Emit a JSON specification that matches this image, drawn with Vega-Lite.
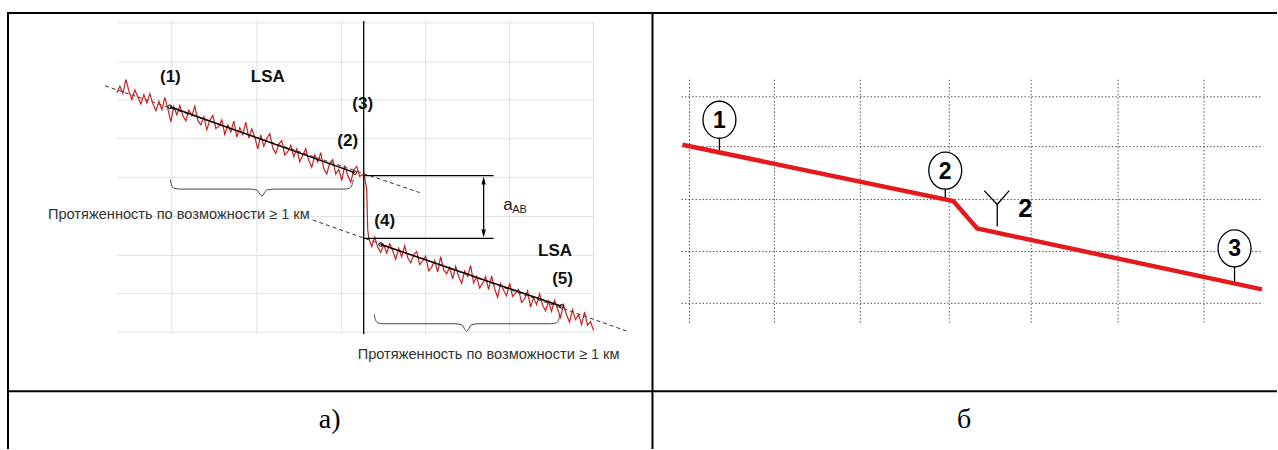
{
  "$schema": "https://vega.github.io/schema/vega-lite/v6.json",
  "width": 1278,
  "height": 450,
  "autosize": {"type": "fit", "contains": "padding"},
  "padding": 0,
  "background": "white",
  "config": {"view": {"stroke": null}},
  "datasets": {
    "segs": [
      {"k": "gridA", "x": 117, "y": 23, "x2": 594, "y2": 23},
      {"k": "gridA", "x": 117, "y": 62, "x2": 594, "y2": 62},
      {"k": "gridA", "x": 117, "y": 100, "x2": 594, "y2": 100},
      {"k": "gridA", "x": 117, "y": 139, "x2": 594, "y2": 139},
      {"k": "gridA", "x": 117, "y": 178, "x2": 594, "y2": 178},
      {"k": "gridA", "x": 117, "y": 217, "x2": 594, "y2": 217},
      {"k": "gridA", "x": 117, "y": 256, "x2": 594, "y2": 256},
      {"k": "gridA", "x": 117, "y": 294, "x2": 594, "y2": 294},
      {"k": "gridA", "x": 117, "y": 333, "x2": 594, "y2": 333},
      {"k": "gridA", "x": 172, "y": 21, "x2": 172, "y2": 335},
      {"k": "gridA", "x": 257, "y": 21, "x2": 257, "y2": 335},
      {"k": "gridA", "x": 342, "y": 21, "x2": 342, "y2": 335},
      {"k": "gridA", "x": 426, "y": 21, "x2": 426, "y2": 335},
      {"k": "gridA", "x": 510, "y": 21, "x2": 510, "y2": 335},
      {"k": "gridA", "x": 594, "y": 21, "x2": 594, "y2": 335},
      {"k": "gridB", "x": 682, "y": 97, "x2": 1263, "y2": 97},
      {"k": "gridB", "x": 682, "y": 147, "x2": 1263, "y2": 147},
      {"k": "gridB", "x": 682, "y": 200, "x2": 1263, "y2": 200},
      {"k": "gridB", "x": 682, "y": 252, "x2": 1263, "y2": 252},
      {"k": "gridB", "x": 682, "y": 304, "x2": 1263, "y2": 304},
      {"k": "gridB", "x": 690, "y": 80, "x2": 690, "y2": 325},
      {"k": "gridB", "x": 775, "y": 80, "x2": 775, "y2": 325},
      {"k": "gridB", "x": 861, "y": 80, "x2": 861, "y2": 325},
      {"k": "gridB", "x": 950, "y": 80, "x2": 950, "y2": 325},
      {"k": "gridB", "x": 1032, "y": 80, "x2": 1032, "y2": 325},
      {"k": "gridB", "x": 1119, "y": 80, "x2": 1119, "y2": 325},
      {"k": "gridB", "x": 1205, "y": 80, "x2": 1205, "y2": 325},
      {"k": "dash", "x": 105, "y": 86, "x2": 420, "y2": 193},
      {"k": "dash", "x": 313, "y": 220.5, "x2": 627, "y2": 331.7},
      {"k": "fit", "x": 170, "y": 107, "x2": 355, "y2": 173},
      {"k": "fit", "x": 381, "y": 245, "x2": 562, "y2": 307},
      {"k": "black", "x": 364, "y": 21, "x2": 364, "y2": 335},
      {"k": "black", "x": 364, "y": 176, "x2": 494, "y2": 176},
      {"k": "black", "x": 364, "y": 239, "x2": 494, "y2": 239},
      {"k": "black", "x": 484, "y": 180, "x2": 484, "y2": 235},
      {"k": "black", "x": 720, "y": 138, "x2": 720, "y2": 151},
      {"k": "black", "x": 946, "y": 189, "x2": 946, "y2": 200},
      {"k": "black", "x": 1235.5, "y": 267, "x2": 1235.5, "y2": 283},
      {"k": "black", "x": 985, "y": 191, "x2": 998, "y2": 205},
      {"k": "black", "x": 1010, "y": 191, "x2": 998, "y2": 205},
      {"k": "black", "x": 998, "y": 205, "x2": 998, "y2": 227},
      {"k": "table", "x": 8, "y": 13, "x2": 1278, "y2": 13},
      {"k": "table", "x": 8, "y": 12, "x2": 8, "y2": 450},
      {"k": "table", "x": 653, "y": 12, "x2": 653, "y2": 450},
      {"k": "table", "x": 8, "y": 392, "x2": 1278, "y2": 392}
    ],
    "trace": [
      {"x": 117, "y": 93.0}, {"x": 120, "y": 86.5}, {"x": 123, "y": 93.6}, {"x": 126, "y": 79.6},
      {"x": 129, "y": 91.1}, {"x": 132, "y": 99.7}, {"x": 135, "y": 90.2}, {"x": 138, "y": 97.2},
      {"x": 141, "y": 104.3}, {"x": 144, "y": 94.8}, {"x": 147, "y": 103.4}, {"x": 150, "y": 93.9},
      {"x": 153, "y": 103.9}, {"x": 156, "y": 111.0}, {"x": 159, "y": 101.5}, {"x": 162, "y": 110.0},
      {"x": 165, "y": 97.6}, {"x": 168, "y": 109.1}, {"x": 171, "y": 122.1}, {"x": 174, "y": 106.7},
      {"x": 177, "y": 115.2}, {"x": 180, "y": 105.7}, {"x": 183, "y": 115.8}, {"x": 186, "y": 121.3},
      {"x": 189, "y": 110.4}, {"x": 192, "y": 115.9}, {"x": 195, "y": 106.4}, {"x": 198, "y": 120.9},
      {"x": 201, "y": 125.0}, {"x": 204, "y": 117.0}, {"x": 207, "y": 130.1}, {"x": 210, "y": 120.6},
      {"x": 213, "y": 115.6}, {"x": 216, "y": 128.7}, {"x": 219, "y": 126.7}, {"x": 222, "y": 120.2},
      {"x": 225, "y": 134.8}, {"x": 228, "y": 125.3}, {"x": 231, "y": 132.3}, {"x": 234, "y": 121.4},
      {"x": 237, "y": 137.4}, {"x": 240, "y": 127.9}, {"x": 243, "y": 135.0}, {"x": 246, "y": 122.5},
      {"x": 249, "y": 138.5}, {"x": 252, "y": 129.1}, {"x": 255, "y": 137.6}, {"x": 258, "y": 149.2},
      {"x": 261, "y": 135.2}, {"x": 264, "y": 146.7}, {"x": 267, "y": 138.8}, {"x": 270, "y": 133.8},
      {"x": 273, "y": 148.3}, {"x": 276, "y": 153.9}, {"x": 279, "y": 144.4}, {"x": 282, "y": 140.9},
      {"x": 285, "y": 155.5}, {"x": 288, "y": 152.0}, {"x": 291, "y": 145.5}, {"x": 294, "y": 157.1},
      {"x": 297, "y": 149.1}, {"x": 300, "y": 162.1}, {"x": 303, "y": 155.7}, {"x": 306, "y": 149.2},
      {"x": 309, "y": 160.7}, {"x": 312, "y": 167.8}, {"x": 315, "y": 155.3}, {"x": 318, "y": 162.3},
      {"x": 321, "y": 152.9}, {"x": 324, "y": 168.9}, {"x": 327, "y": 174.4}, {"x": 330, "y": 163.5},
      {"x": 333, "y": 160.0}, {"x": 336, "y": 174.6}, {"x": 339, "y": 169.6}, {"x": 342, "y": 181.1},
      {"x": 345, "y": 165.7}, {"x": 348, "y": 175.7}, {"x": 351, "y": 182.7}, {"x": 354, "y": 170.3},
      {"x": 357, "y": 166.8}, {"x": 360, "y": 176.8}, {"x": 363, "y": 174.9},
      {"x": 365, "y": 178}, {"x": 367, "y": 190}, {"x": 368, "y": 230}, {"x": 369, "y": 238.5},
      {"x": 372, "y": 247.1}, {"x": 375, "y": 237.6}, {"x": 378, "y": 247.6}, {"x": 381, "y": 253.2},
      {"x": 384, "y": 245.2}, {"x": 387, "y": 253.7}, {"x": 390, "y": 244.3}, {"x": 393, "y": 251.3},
      {"x": 396, "y": 259.8}, {"x": 399, "y": 248.9}, {"x": 402, "y": 257.4}, {"x": 405, "y": 246.4},
      {"x": 408, "y": 258.0}, {"x": 411, "y": 263.5}, {"x": 414, "y": 255.5}, {"x": 417, "y": 252.0},
      {"x": 420, "y": 265.1}, {"x": 423, "y": 261.6}, {"x": 426, "y": 256.6}, {"x": 429, "y": 271.2},
      {"x": 432, "y": 267.7}, {"x": 435, "y": 261.2}, {"x": 438, "y": 272.8}, {"x": 441, "y": 257.3},
      {"x": 444, "y": 270.3}, {"x": 447, "y": 274.4}, {"x": 450, "y": 267.9}, {"x": 453, "y": 279.4},
      {"x": 456, "y": 267.0}, {"x": 459, "y": 277.0}, {"x": 462, "y": 284.0}, {"x": 465, "y": 271.6},
      {"x": 468, "y": 277.1}, {"x": 471, "y": 266.1}, {"x": 474, "y": 283.7}, {"x": 477, "y": 277.2},
      {"x": 480, "y": 288.7}, {"x": 483, "y": 283.8}, {"x": 486, "y": 277.3}, {"x": 489, "y": 290.3},
      {"x": 492, "y": 276.4}, {"x": 495, "y": 289.4}, {"x": 498, "y": 297.9}, {"x": 501, "y": 284.0},
      {"x": 504, "y": 291.0}, {"x": 507, "y": 296.5}, {"x": 510, "y": 284.0}, {"x": 513, "y": 297.1},
      {"x": 516, "y": 293.6}, {"x": 519, "y": 290.1}, {"x": 522, "y": 303.2}, {"x": 525, "y": 299.7},
      {"x": 528, "y": 291.7}, {"x": 531, "y": 307.8}, {"x": 534, "y": 298.3}, {"x": 537, "y": 305.3},
      {"x": 540, "y": 294.4}, {"x": 543, "y": 305.9}, {"x": 546, "y": 311.4}, {"x": 549, "y": 302.0},
      {"x": 552, "y": 312.0}, {"x": 555, "y": 301.0}, {"x": 558, "y": 309.6}, {"x": 561, "y": 318.1},
      {"x": 564, "y": 305.6}, {"x": 567, "y": 315.7}, {"x": 570, "y": 322.7}, {"x": 573, "y": 310.2},
      {"x": 576, "y": 320.3}, {"x": 579, "y": 315.3}, {"x": 582, "y": 325.3}, {"x": 585, "y": 312.9},
      {"x": 588, "y": 325.9}, {"x": 591, "y": 322.4}, {"x": 594, "y": 331.0}
    ],
    "braces": [
      {"b": "A", "o": 1, "x": 170.5, "y": 180}, {"b": "A", "o": 2, "x": 171.5, "y": 185},
      {"b": "A", "o": 3, "x": 174, "y": 188.5}, {"b": "A", "o": 4, "x": 180, "y": 189.5},
      {"b": "A", "o": 5, "x": 250, "y": 189.5}, {"b": "A", "o": 6, "x": 257, "y": 190.5},
      {"b": "A", "o": 7, "x": 262, "y": 196.5}, {"b": "A", "o": 8, "x": 267, "y": 190.5},
      {"b": "A", "o": 9, "x": 274, "y": 189.5}, {"b": "A", "o": 10, "x": 344, "y": 189.5},
      {"b": "A", "o": 11, "x": 350, "y": 188.5}, {"b": "A", "o": 12, "x": 352.5, "y": 185},
      {"b": "A", "o": 13, "x": 353.5, "y": 180},
      {"b": "B", "o": 1, "x": 374.6, "y": 315}, {"b": "B", "o": 2, "x": 375.6, "y": 320},
      {"b": "B", "o": 3, "x": 378, "y": 323.5}, {"b": "B", "o": 4, "x": 384, "y": 324.5},
      {"b": "B", "o": 5, "x": 455, "y": 324.5}, {"b": "B", "o": 6, "x": 462, "y": 325.5},
      {"b": "B", "o": 7, "x": 467, "y": 332}, {"b": "B", "o": 8, "x": 472, "y": 325.5},
      {"b": "B", "o": 9, "x": 479, "y": 324.5}, {"b": "B", "o": 10, "x": 551, "y": 324.5},
      {"b": "B", "o": 11, "x": 557, "y": 323.5}, {"b": "B", "o": 12, "x": 559.3, "y": 320},
      {"b": "B", "o": 13, "x": 559.8, "y": 315}
    ],
    "lineB": [
      {"x": 683, "y": 145}, {"x": 954, "y": 201.5}, {"x": 978, "y": 229}, {"x": 1263, "y": 290}
    ],
    "ends": [
      {"x": 170, "y": 107}, {"x": 355, "y": 173}, {"x": 381, "y": 245}, {"x": 562, "y": 307}
    ],
    "arrows": [
      {"x": 484, "y": 181, "dir": "up"}, {"x": 484, "y": 234, "dir": "down"}
    ],
    "ellipses": [
      {"x": 720, "y": 120}, {"x": 946, "y": 171}, {"x": 1235.5, "y": 249}
    ],
    "texts": [
      {"s": "lbl", "t": "(1)", "x": 170.5, "y": 77},
      {"s": "lbl", "t": "LSA", "x": 268, "y": 77},
      {"s": "lbl", "t": "(3)", "x": 363, "y": 104},
      {"s": "lbl", "t": "(2)", "x": 348, "y": 141},
      {"s": "lbl", "t": "(4)", "x": 385, "y": 221},
      {"s": "lbl", "t": "LSA", "x": 555.5, "y": 252},
      {"s": "lbl", "t": "(5)", "x": 563, "y": 279.5},
      {"s": "note", "t": "Протяженность по возможности ≥ 1 км", "x": 48, "y": 215},
      {"s": "note", "t": "Протяженность по возможности ≥ 1 км", "x": 358, "y": 356},
      {"s": "aa", "t": "a", "x": 508.5, "y": 205},
      {"s": "sub", "t": "AB", "x": 520, "y": 210.5},
      {"s": "num", "t": "1", "x": 720, "y": 121},
      {"s": "num", "t": "2", "x": 946, "y": 172},
      {"s": "num", "t": "3", "x": 1235.5, "y": 250},
      {"s": "y2", "t": "2", "x": 1026, "y": 209},
      {"s": "cap", "t": "а)", "x": 330, "y": 421},
      {"s": "cap", "t": "б", "x": 965, "y": 421}
    ]
  },
  "encoding": {
    "x": {"field": "x", "type": "quantitative", "scale": {"domain": [0, 1278], "nice": false, "zero": false}, "axis": null},
    "y": {"field": "y", "type": "quantitative", "scale": {"domain": [0, 450], "nice": false, "zero": false, "reverse": true}, "axis": null}
  },
  "layer": [
    {
      "data": {"name": "segs"},
      "transform": [{"filter": "datum.k === 'gridA'"}],
      "mark": {"type": "rule", "color": "#e2e2e2", "strokeWidth": 1},
      "encoding": {"x2": {"field": "x2"}, "y2": {"field": "y2"}}
    },
    {
      "data": {"name": "segs"},
      "transform": [{"filter": "datum.k === 'gridB'"}],
      "mark": {"type": "rule", "color": "#555555", "strokeWidth": 1, "strokeDash": [1.5, 2]},
      "encoding": {"x2": {"field": "x2"}, "y2": {"field": "y2"}}
    },
    {
      "data": {"name": "segs"},
      "transform": [{"filter": "datum.k === 'dash'"}],
      "mark": {"type": "rule", "color": "#333333", "strokeWidth": 1, "strokeDash": [4, 3]},
      "encoding": {"x2": {"field": "x2"}, "y2": {"field": "y2"}}
    },
    {
      "data": {"name": "trace"},
      "mark": {"type": "line", "color": "#cc1f1f", "strokeWidth": 1.2},
      "encoding": {}
    },
    {
      "data": {"name": "segs"},
      "transform": [{"filter": "datum.k === 'fit'"}],
      "mark": {"type": "rule", "color": "#000000", "strokeWidth": 1.5},
      "encoding": {"x2": {"field": "x2"}, "y2": {"field": "y2"}}
    },
    {
      "data": {"name": "segs"},
      "transform": [{"filter": "datum.k === 'black'"}],
      "mark": {"type": "rule", "color": "#000000", "strokeWidth": 1.3},
      "encoding": {"x2": {"field": "x2"}, "y2": {"field": "y2"}}
    },
    {
      "data": {"name": "segs"},
      "transform": [{"filter": "datum.k === 'table'"}],
      "mark": {"type": "rule", "color": "#000000", "strokeWidth": 2},
      "encoding": {"x2": {"field": "x2"}, "y2": {"field": "y2"}}
    },
    {
      "data": {"name": "braces"},
      "mark": {"type": "line", "color": "#444444", "strokeWidth": 1, "interpolate": "monotone"},
      "encoding": {"detail": {"field": "b"}, "order": {"field": "o", "type": "quantitative"}}
    },
    {
      "data": {"name": "lineB"},
      "mark": {"type": "line", "color": "#e3191c", "strokeWidth": 4.5},
      "encoding": {}
    },
    {
      "data": {"name": "ends"},
      "mark": {"type": "point", "shape": "circle", "size": 14, "stroke": "#000000", "strokeWidth": 1, "filled": false, "opacity": 1},
      "encoding": {}
    },
    {
      "data": {"name": "arrows"},
      "mark": {"type": "point", "filled": true, "color": "#000000", "size": 64, "opacity": 1},
      "encoding": {
        "shape": {"field": "dir", "type": "nominal", "scale": {"domain": ["up", "down"], "range": ["M0,-1L-0.55,1L0.55,1Z", "M0,1L-0.55,-1L0.55,-1Z"]}, "legend": null}
      }
    },
    {
      "data": {"name": "ellipses"},
      "mark": {"type": "point", "shape": "M-0.89,0A0.89,1,0,1,0,0.89,0A0.89,1,0,1,0,-0.89,0Z", "size": 1369, "fill": "#ffffff", "stroke": "#000000", "strokeWidth": 1.3, "filled": true, "opacity": 1, "fillOpacity": 1},
      "encoding": {}
    },
    {
      "data": {"name": "texts"},
      "transform": [{"filter": "datum.s === 'lbl'"}],
      "mark": {"type": "text", "font": "Liberation Sans", "fontSize": 17, "fontWeight": "bold", "color": "#111111", "align": "center", "baseline": "middle"},
      "encoding": {"text": {"field": "t"}}
    },
    {
      "data": {"name": "texts"},
      "transform": [{"filter": "datum.s === 'note'"}],
      "mark": {"type": "text", "font": "Liberation Sans", "fontSize": 14.6, "color": "#333333", "align": "left", "baseline": "middle"},
      "encoding": {"text": {"field": "t"}}
    },
    {
      "data": {"name": "texts"},
      "transform": [{"filter": "datum.s === 'aa'"}],
      "mark": {"type": "text", "font": "Liberation Sans", "fontSize": 17, "color": "#222222", "align": "center", "baseline": "middle"},
      "encoding": {"text": {"field": "t"}}
    },
    {
      "data": {"name": "texts"},
      "transform": [{"filter": "datum.s === 'sub'"}],
      "mark": {"type": "text", "font": "Liberation Sans", "fontSize": 11, "color": "#222222", "align": "center", "baseline": "middle"},
      "encoding": {"text": {"field": "t"}}
    },
    {
      "data": {"name": "texts"},
      "transform": [{"filter": "datum.s === 'num'"}],
      "mark": {"type": "text", "font": "Liberation Sans", "fontSize": 23, "fontWeight": "bold", "color": "#000000", "align": "center", "baseline": "middle"},
      "encoding": {"text": {"field": "t"}}
    },
    {
      "data": {"name": "texts"},
      "transform": [{"filter": "datum.s === 'y2'"}],
      "mark": {"type": "text", "font": "Liberation Sans", "fontSize": 25, "fontWeight": "bold", "color": "#000000", "align": "center", "baseline": "middle"},
      "encoding": {"text": {"field": "t"}}
    },
    {
      "data": {"name": "texts"},
      "transform": [{"filter": "datum.s === 'cap'"}],
      "mark": {"type": "text", "font": "Liberation Serif", "fontSize": 28, "color": "#000000", "align": "center", "baseline": "middle"},
      "encoding": {"text": {"field": "t"}}
    }
  ]
}
